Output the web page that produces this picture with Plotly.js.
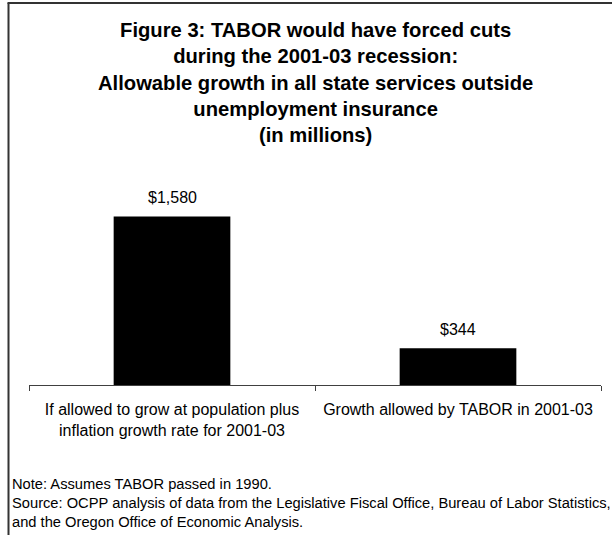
<!DOCTYPE html>
<html>
<head>
<meta charset="utf-8">
<script src="https://cdn.plot.ly/plotly-3.0.1.min.js"></script>
<style>
  html, body { margin: 0; padding: 0; background: #fff; }
  #chart { width: 612px; height: 535px; }
</style>
</head>
<body>
<div id="chart"></div>
<script>
// ---- Data ----
const categories = [
  "If allowed to grow at population plus<br>inflation growth rate for 2001-03",
  "Growth allowed by TABOR in 2001-03"
];
const categoryKeys = ["pop_infl", "tabor"];
const values = [1580, 344];
const valueLabels = ["$1,580", "$344"];
const titleLines = [
  "Figure 3: TABOR would have forced cuts",
  "during the 2001-03 recession:",
  "Allowable growth in all state services outside",
  "unemployment insurance",
  "(in millions)"
];
const noteLines = [
  "Note: Assumes TABOR passed in 1990.",
  "Source: OCPP analysis of data from the Legislative Fiscal Office, Bureau of Labor Statistics,",
  "and the Oregon Office of Economic Analysis."
];

// ---- Layout geometry (pixels) ----
const W = 612, H = 535;
const M = { l: 29, r: 11, t: 193, b: 150 };
const PW = W - M.l - M.r, PH = H - M.t - M.b;
const px2x = p => (p - M.l) / PW;
const py2y = p => (H - M.b - p) / PH;

const FONT = "Arial, 'Liberation Sans', Helvetica, sans-serif";

const trace = {
  type: "bar",
  x: categoryKeys,
  y: values,
  marker: { color: "#000000", line: { width: 0 } },
  hoverinfo: "skip"
};

const annotations = values.map((v, i) => ({
  x: categoryKeys[i], y: v, xref: "x", yref: "y",
  text: valueLabels[i], showarrow: false,
  xanchor: "center", yanchor: "bottom", yshift: 8,
  font: { family: FONT, size: 16, color: "#000" }
}));

// title block
annotations.push({
  xref: "paper", yref: "paper",
  x: 0.5, y: py2y(17),
  xanchor: "center", yanchor: "top", align: "center",
  showarrow: false,
  text: "<b>" + titleLines.join("<br>") + "</b>",
  font: { family: FONT, size: 20.2, color: "#000" }
});

// notes
annotations.push({
  xref: "paper", yref: "paper",
  x: px2x(10), y: py2y(474),
  xanchor: "left", yanchor: "top", align: "left",
  showarrow: false,
  text: noteLines.join("<br>"),
  font: { family: FONT, size: 14.7, color: "#000" }
});

const layout = {
  width: W, height: H,
  margin: M,
  paper_bgcolor: "#ffffff",
  plot_bgcolor: "#ffffff",
  showlegend: false,
  bargap: 0.592,
  xaxis: {
    type: "category",
    tickvals: categoryKeys,
    ticktext: categories,
    tickson: "boundaries",
    ticks: "outside",
    ticklen: 5,
    tickcolor: "#404040",
    tickwidth: 1,
    ticklabelstandoff: 10,
    showline: true,
    linecolor: "#404040",
    linewidth: 1,
    showgrid: false,
    zeroline: false,
    tickfont: { family: FONT, size: 16, color: "#000" },
    fixedrange: true
  },
  yaxis: {
    range: [0, 1800],
    showline: false, showgrid: false, zeroline: false,
    showticklabels: false, ticks: "",
    fixedrange: true
  },
  shapes: [
    { type: "line", xref: "paper", yref: "paper",
      x0: px2x(8.5), x1: px2x(8.5), y0: py2y(3), y1: py2y(560),
      line: { color: "#333333", width: 2 } },
    { type: "line", xref: "paper", yref: "paper",
      x0: px2x(7.5), x1: px2x(640), y0: py2y(3), y1: py2y(3),
      line: { color: "#333333", width: 2 } }
  ],
  annotations: annotations
};

Plotly.newPlot("chart", [trace], layout, { displayModeBar: false, staticPlot: true });
</script>
</body>
</html>
